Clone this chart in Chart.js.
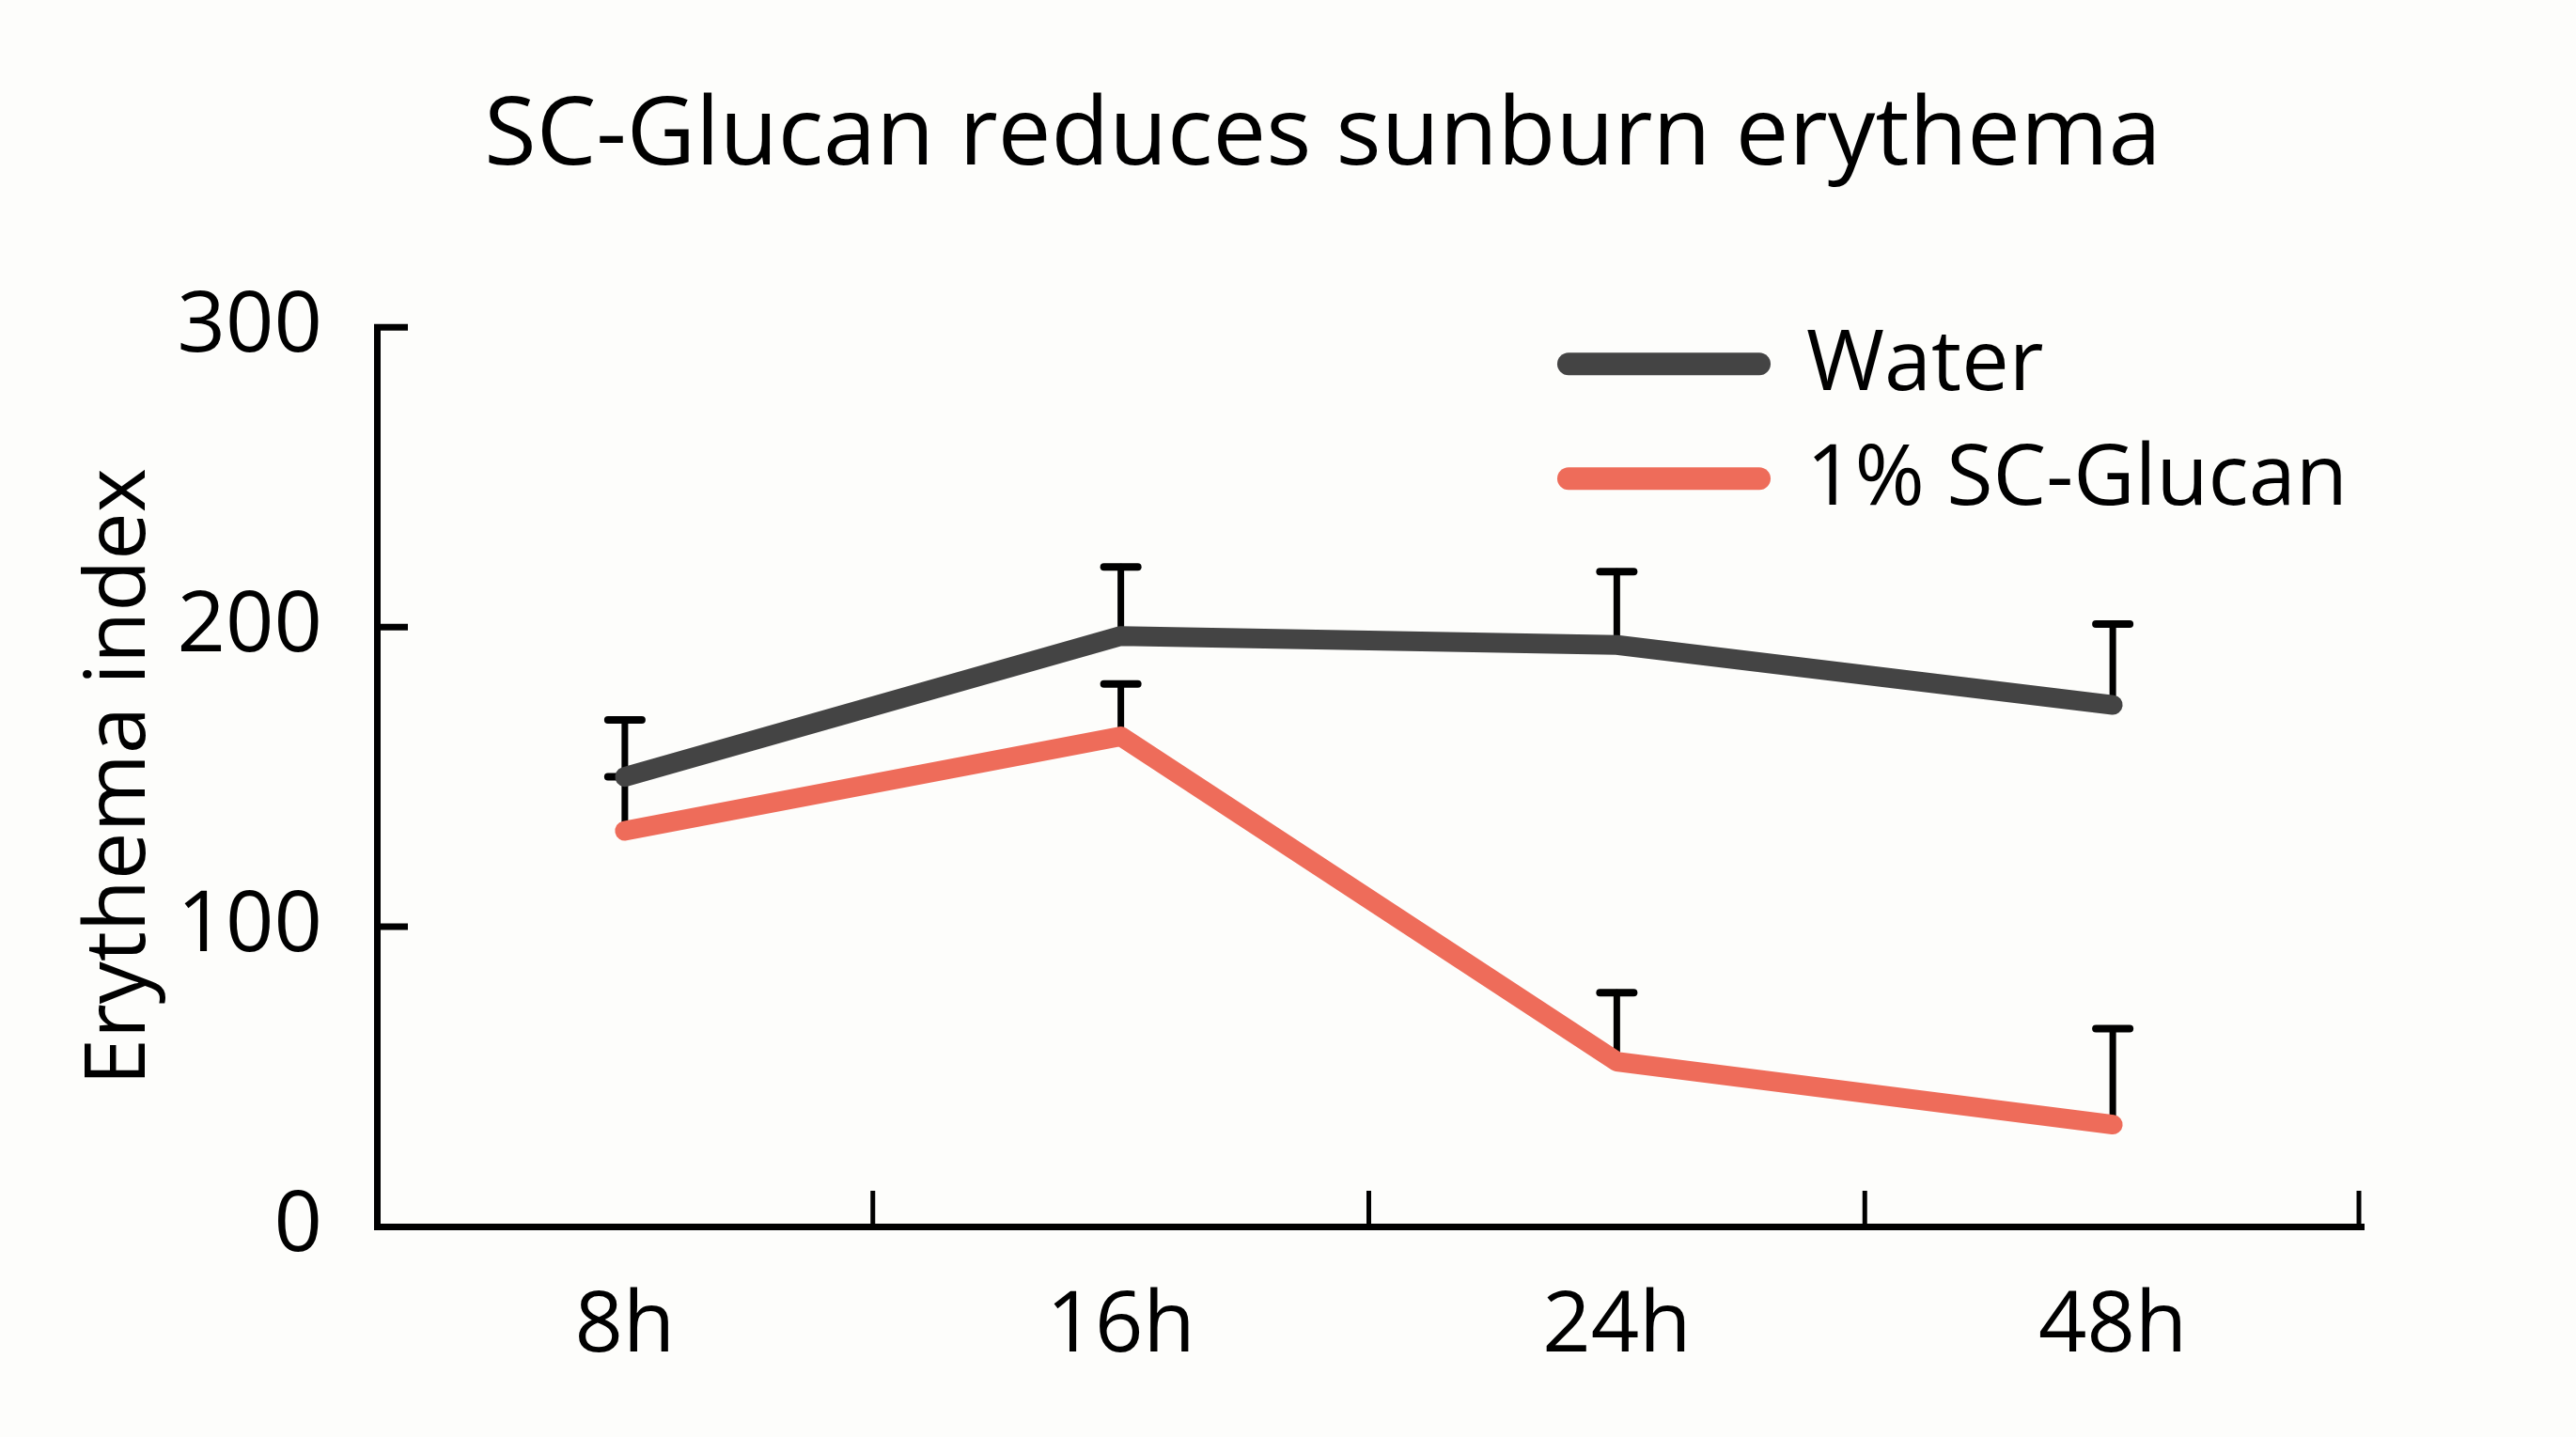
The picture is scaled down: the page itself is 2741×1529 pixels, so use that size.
<!DOCTYPE html>
<html>
<head>
<meta charset="utf-8">
<title>SC-Glucan reduces sunburn erythema</title>
<script src="https://cdn.jsdelivr.net/npm/chart.js@4.4.1/dist/chart.umd.min.js"></script>
<style>
    html, body { margin: 0; padding: 0; background: #fdfdfb; }
    #wrap { width: 2741px; height: 1529px; position: relative; }
</style>
</head>
<body>
<div id="wrap"><canvas id="erythema-chart"></canvas></div>
<script>
// Data
const timepoints = ['8h', '16h', '24h', '48h'];
const waterMean = [150, 197, 194, 174];
const waterUpper = [169, 220, 218.5, 201];
const glucanMean = [132, 163.5, 55, 34];
const glucanUpper = [150, 181, 78, 66];
const yTicks = [0, 100, 200, 300];

const seriesNames = ['Water', '1% SC-Glucan'];
const seriesColors = ['#444444', '#ee6c5a'];

const fontFamily = '"Open Sans", "Noto Sans", sans-serif';

// Error bars (upper side only), drawn under the lines
const errorBars = {
    id: 'errorBars',
    beforeDatasetsDraw(chart) {
        const ctx = chart.ctx;
        const y = chart.scales.y;
        ctx.save();
        ctx.strokeStyle = '#000';
        ctx.lineCap = 'round';
        chart.data.datasets.forEach((ds, i) => {
            const meta = chart.getDatasetMeta(i);
            ds.upper.forEach((top, j) => {
                const px = meta.data[j].x;
                const py = y.getPixelForValue(ds.data[j]);
                const pt = y.getPixelForValue(top);
                ctx.lineWidth = 7;
                ctx.beginPath();
                ctx.moveTo(px, py);
                ctx.lineTo(px, pt);
                ctx.stroke();
                ctx.lineWidth = 8;
                ctx.beginPath();
                ctx.moveTo(px - 18, pt);
                ctx.lineTo(px + 18, pt);
                ctx.stroke();
            });
        });
        ctx.restore();
    }
};

// Inward tick marks on both axes
const innerTicks = {
    id: 'innerTicks',
    afterDraw(chart) {
        const ctx = chart.ctx;
        const x = chart.scales.x;
        const y = chart.scales.y;
        const area = chart.chartArea;
        ctx.save();
        ctx.strokeStyle = '#000';
        ctx.lineWidth = 5;
        for (let i = 0; i < timepoints.length; i++) {
            const px = Math.min(x.getPixelForValue(i + 0.5), area.right - 2);
            ctx.beginPath();
            ctx.moveTo(px, area.bottom);
            ctx.lineTo(px, area.bottom - 38);
            ctx.stroke();
        }
        ctx.lineWidth = 7;
        y.ticks.forEach(t => {
            if (t.value === 0) return;
            const py = y.getPixelForValue(t.value);
            ctx.beginPath();
            ctx.moveTo(area.left - 3, py);
            ctx.lineTo(area.left + 33, py);
            ctx.stroke();
        });
        ctx.restore();
    }
};

// Legend sitting in the top right of the plot
const cornerLegend = {
    id: 'cornerLegend',
    afterDraw(chart) {
        const ctx = chart.ctx;
        const area = chart.chartArea;
        const x0 = area.left + 1268;
        const rows = [area.top + 39, area.top + 161];
        ctx.save();
        ctx.lineCap = 'round';
        ctx.lineWidth = 24;
        ctx.font = '90px ' + fontFamily;
        ctx.textBaseline = 'middle';
        ctx.fillStyle = '#000';
        seriesNames.forEach((name, i) => {
            ctx.strokeStyle = seriesColors[i];
            ctx.beginPath();
            ctx.moveTo(x0, rows[i]);
            ctx.lineTo(x0 + 203, rows[i]);
            ctx.stroke();
            ctx.fillText(name, x0 + 253, rows[i] + 2);
        });
        ctx.restore();
    }
};

const ctx = document.getElementById('erythema-chart').getContext('2d');
const erythemaChart = new Chart(ctx, {
    type: 'line',
    data: {
        labels: timepoints,
        datasets: [
            {
                label: seriesNames[0],
                data: waterMean,
                upper: waterUpper,
                borderColor: seriesColors[0],
            },
            {
                label: seriesNames[1],
                data: glucanMean,
                upper: glucanUpper,
                borderColor: seriesColors[1],
            }
        ]
    },
    options: {
        responsive: true,
        maintainAspectRatio: false,
        animation: false,
        layout: {
            padding: { left: 74, right: 0, top: 0, bottom: 0 }
        },
        elements: {
            line: {
                borderWidth: 21,
                tension: 0,
                borderCapStyle: 'round',
                borderJoinStyle: 'round',
                fill: false
            },
            point: { radius: 0, hoverRadius: 0 }
        },
        plugins: {
            legend: { display: false },
            tooltip: { enabled: false },
            title: {
                display: true,
                text: 'SC-Glucan reduces sunburn erythema',
                color: '#000',
                font: { size: 101, family: fontFamily, weight: 'normal', lineHeight: 1.2 },
                padding: { top: 86, bottom: 141 }
            }
        },
        scales: {
            x: {
                type: 'category',
                offset: true,
                grid: {
                    offset: true,
                    drawOnChartArea: false,
                    drawTicks: false,
                    lineWidth: 7,
                    color: 'rgba(0,0,0,0)'
                },
                border: { display: true, color: '#000', width: 7 },
                ticks: {
                    color: '#000',
                    padding: 53,
                    font: { size: 90, family: fontFamily }
                },
                afterFit(scale) { scale.height = 224; }
            },
            y: {
                min: 0,
                max: 300,
                afterBuildTicks(scale) {
                    scale.ticks = yTicks.map(v => ({ value: v }));
                },
                grid: {
                    drawOnChartArea: false,
                    drawTicks: false,
                    lineWidth: 7,
                    color: 'rgba(0,0,0,0)'
                },
                border: { display: true, color: '#000', width: 7 },
                ticks: {
                    color: '#000',
                    padding: 58,
                    font: { size: 90, family: fontFamily }
                },
                title: {
                    display: true,
                    text: 'Erythema index',
                    color: '#000',
                    font: { size: 90, family: fontFamily },
                    padding: { top: 0, bottom: 0 }
                },
                afterFit(scale) { scale.width = 327; }
            },
            // empty right-hand margin so the title centres like the original
            yRight: {
                position: 'right',
                display: true,
                grid: { drawOnChartArea: false, drawTicks: false },
                border: { display: false },
                ticks: { display: false },
                afterFit(scale) { scale.width = 229; }
            }
        }
    },
    plugins: [errorBars, innerTicks, cornerLegend]
});
</script>
</body>
</html>
